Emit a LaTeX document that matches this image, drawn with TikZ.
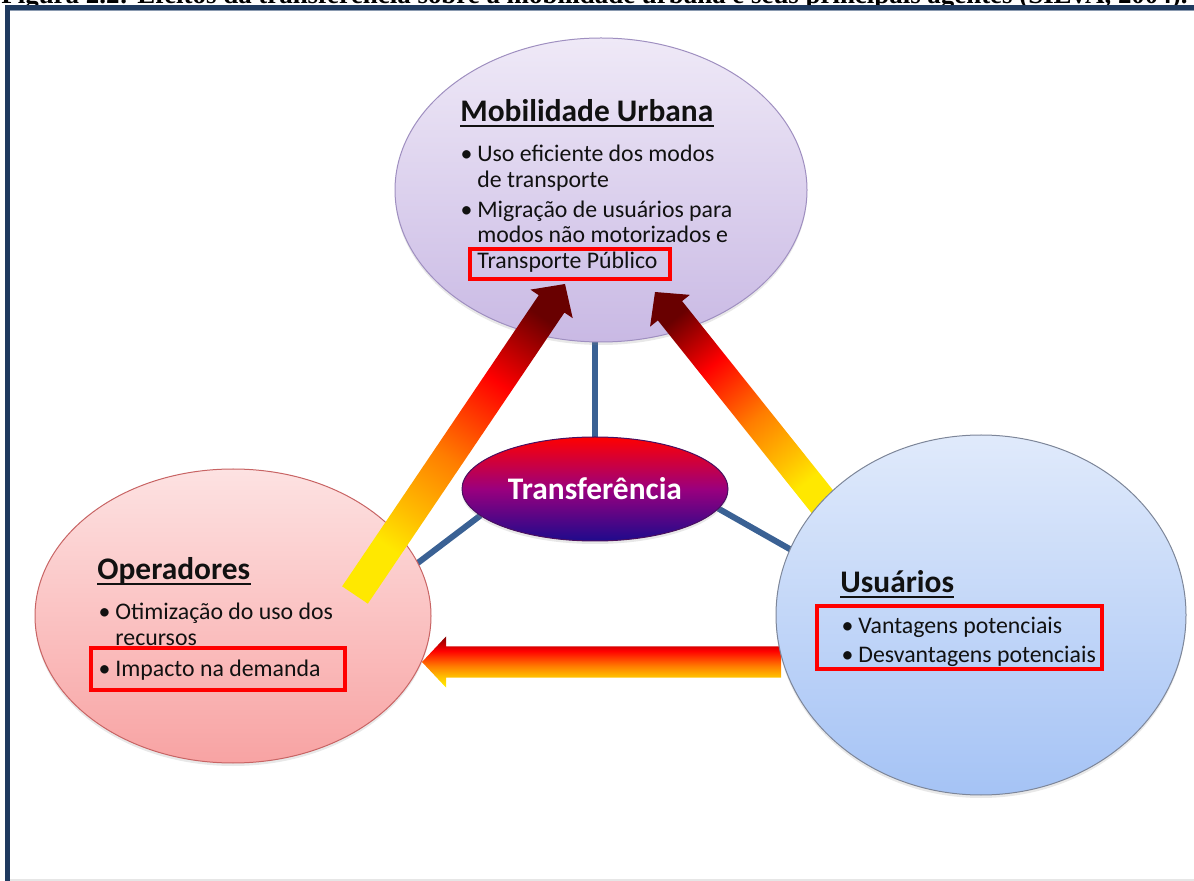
\documentclass[tikz,border=0pt]{standalone}
\usepackage{fontspec}
\setmainfont{Carlito}
\newfontfamily\capfont{Liberation Serif}
\usetikzlibrary{shapes.geometric,calc,shadows}

\definecolor{framec}{HTML}{1F3A5F}
\definecolor{framel}{HTML}{8A9AB0}
\definecolor{edgec}{HTML}{E6E6E6}
\definecolor{linkc}{HTML}{3A6194}
\definecolor{txtc}{HTML}{111111}
\definecolor{mobt}{HTML}{EFE9F7}
\definecolor{mobb}{HTML}{C9B9E4}
\definecolor{mobd}{HTML}{9F8FC0}
\definecolor{oprt}{HTML}{FDE2E2}
\definecolor{oprb}{HTML}{F8A3A3}
\definecolor{oprd}{HTML}{C86464}
\definecolor{usrt}{HTML}{E0EAFB}
\definecolor{usrb}{HTML}{A5C3F5}
\definecolor{usrd}{HTML}{7D8699}
\definecolor{trst}{HTML}{FF0000}
\definecolor{trsm}{HTML}{9A007E}
\definecolor{trsb}{HTML}{1E0A8C}
\definecolor{trsd}{HTML}{4A1060}
\definecolor{fyel}{RGB}{255,232,0}
\definecolor{fgld}{RGB}{255,190,0}
\definecolor{forg}{RGB}{255,125,0}
\definecolor{fred}{RGB}{255,0,0}
\definecolor{fdark}{RGB}{105,0,0}

% along the slanted arrows
\pgfdeclareverticalshading{flame}{100bp}{color(0bp)=(fyel); color(28bp)=(fyel);
  color(35bp)=(fgld); color(47bp)=(forg); color(63bp)=(fred); color(77bp)=(fdark);
  color(100bp)=(fdark)}
% across the flat arrow
\pgfdeclareverticalshading{flameh}{100bp}{color(0bp)=(fyel); color(27bp)=(fyel);
  color(36bp)=(fgld); color(46bp)=(forg); color(61bp)=(fred); color(78bp)=(fdark);
  color(100bp)=(fdark)}

\pgfdeclarelayer{back}
\pgfdeclarelayer{front}
\pgfsetlayers{back,main,front}

\newcommand\bul{\makebox[9pt][l]{\hspace{0.6pt}\textbullet}}
\newcommand\igap{2pt}
\newcommand\shw{7.75pt}
\newcommand\hdw{12.75pt}
\newcommand\hdl{12pt}
% block arrow from #2 to #3, shading #1 turned by #4
\newcommand\flamearrow[4][flame]{%
  \coordinate (fa-b) at ($(#3)!\hdl!(#2)$);
  \path[shading=#1, shading angle=#4]
    ($(#2)!\shw!90:(#3)$) -- ($(fa-b)!\shw!90:(#3)$) -- ($(fa-b)!\hdw!90:(#3)$) -- (#3)
    -- ($(fa-b)!\hdw!-90:(#3)$) -- ($(fa-b)!\shw!-90:(#3)$) -- ($(#2)!\shw!-90:(#3)$) -- cycle;
}

\tikzset{
  blob/.style={ellipse, draw, inner sep=0pt, outer sep=0pt, line width=0.5pt,
    drop shadow={shadow xshift=0pt, shadow yshift=-1.5pt, opacity=0.18}},
  mobblob/.style={blob, draw=mobd, top color=mobt, bottom color=mobb,
    minimum width=206pt, minimum height=152pt},
  oprblob/.style={blob, draw=oprd, top color=oprt, bottom color=oprb,
    minimum width=198pt, minimum height=147pt},
  usrblob/.style={blob, draw=usrd, top color=usrt, bottom color=usrb,
    minimum width=205pt, minimum height=180pt},
  trsblob/.style={blob, draw=trsd, top color=trst, bottom color=trsb, middle color=trsm,
    minimum width=133pt, minimum height=52pt, text=white,
    font=\bfseries\fontsize{15.7}{18}\selectfont},
  body/.style={anchor=base west, inner sep=0pt, text=txtc,
    font=\fontsize{11.9}{12.8}\selectfont},
  ttl/.style={body, font=\bfseries\fontsize{15.7}{18}\selectfont},
  captext/.style={anchor=base west, inner sep=0pt,
    font=\capfont\bfseries\fontsize{13.45}{16}\selectfont},
  uline/.style={line width=1pt, draw=txtc},
  link/.style={draw=linkc, line width=3pt},
  redbox/.style={draw=red, line width=2pt},
}

\begin{document}
\begin{tikzpicture}[x=0.5pt, y=-0.5pt]
\useasboundingbox (0,0) rectangle (1194,881);

% caption cut by the page edge, and frame
\begin{scope}
  \clip (0,0) rectangle (1194,881);
  \node[captext] (caption) at (1,3.5) {Figura 2.2: Efeitos da transferência sobre a mobilidade urbana e seus principais agentes (SILVA, 2004).};
\end{scope}
\fill[framec] (5,5) rectangle (1194,10);
\fill[framel] (10,10) rectangle (1194,11);
\fill[framec] (5,5) rectangle (10,881);
\fill[edgec] (10,879) rectangle (1194,881);

% ellipses
\node[mobblob] (mob) at (601,190) {};
\node[oprblob] (opr) at (233,616) {};
\begin{pgfonlayer}{front}
  \node[usrblob] (usr) at (981,615) {};
  \node[trsblob] (trans) at (595,489) {Transferência};
\end{pgfonlayer}

% links to the centre
\begin{pgfonlayer}{back}
  \draw[link] (trans.north) -- (trans.north |- mob.south);
  \draw[link] (trans.193) -- (opr.16);
  \draw[link] (trans.351) -- (usr.161);
\end{pgfonlayer}

% gradient arrows
\coordinate (la-tail) at ($(opr.center)+(122,-21)$);
\coordinate (la-tip) at ($(mob.center)+(-36,94)$);
\coordinate (ra-tail) at ($(usr.center)+(-148,-100)$);
\coordinate (ra-tip) at ($(mob.center)+(54,102)$);
\coordinate (ba-tail) at ($(usr.center)+(-200,47)$);
\coordinate (ba-tip) at ($(opr.center)+(189,46)$);
\flamearrow{la-tail}{la-tip}{-34}
\flamearrow{ra-tail}{ra-tip}{38.6}
\flamearrow[flameh]{ba-tail}{ba-tip}{0}

% texts
\begin{pgfonlayer}{front}
  \node[ttl] (mob-ttl) at (460,122) {Mobilidade Urbana};
  \node[body] (mob-txt) at (459,162) {\begin{tabular}[t]{@{}l@{}l@{}}
    \bul & Uso eficiente dos modos\\
         & de transporte\\[\igap]
    \bul & Migração de usuários para\\
         & modos não motorizados e\\
         & Transporte Público
  \end{tabular}};
  \draw[redbox] (470,249) rectangle (670,279);

  \node[ttl] (opr-ttl) at (97,580) {Operadores};
  \node[body] (opr-txt) at (97,620) {\begin{tabular}[t]{@{}l@{}l@{}}
    \bul & Otimização do uso dos\\
         & recursos
  \end{tabular}};
  \node[body] (opr-imp) at (97,676) {\bul Impacto na demanda};
  \draw[redbox] (91,648) rectangle (345,690);

  \node[ttl] (usr-ttl) at (840,593) {Usuários};
  \node[body] (usr-txt) at (840,633) {\begin{tabular}[t]{@{}l@{}l@{}}
    \bul & Vantagens potenciais\\[1.7pt]
    \bul & Desvantagens potenciais
  \end{tabular}};
  \draw[redbox] (817,606) rectangle (1102,669);

  \foreach \t in {mob-ttl,opr-ttl,usr-ttl}
    \draw[uline] ([yshift=-1.8pt]\t.base west) -- ([yshift=-1.8pt]\t.base east);
\end{pgfonlayer}
\end{tikzpicture}
\end{document}
